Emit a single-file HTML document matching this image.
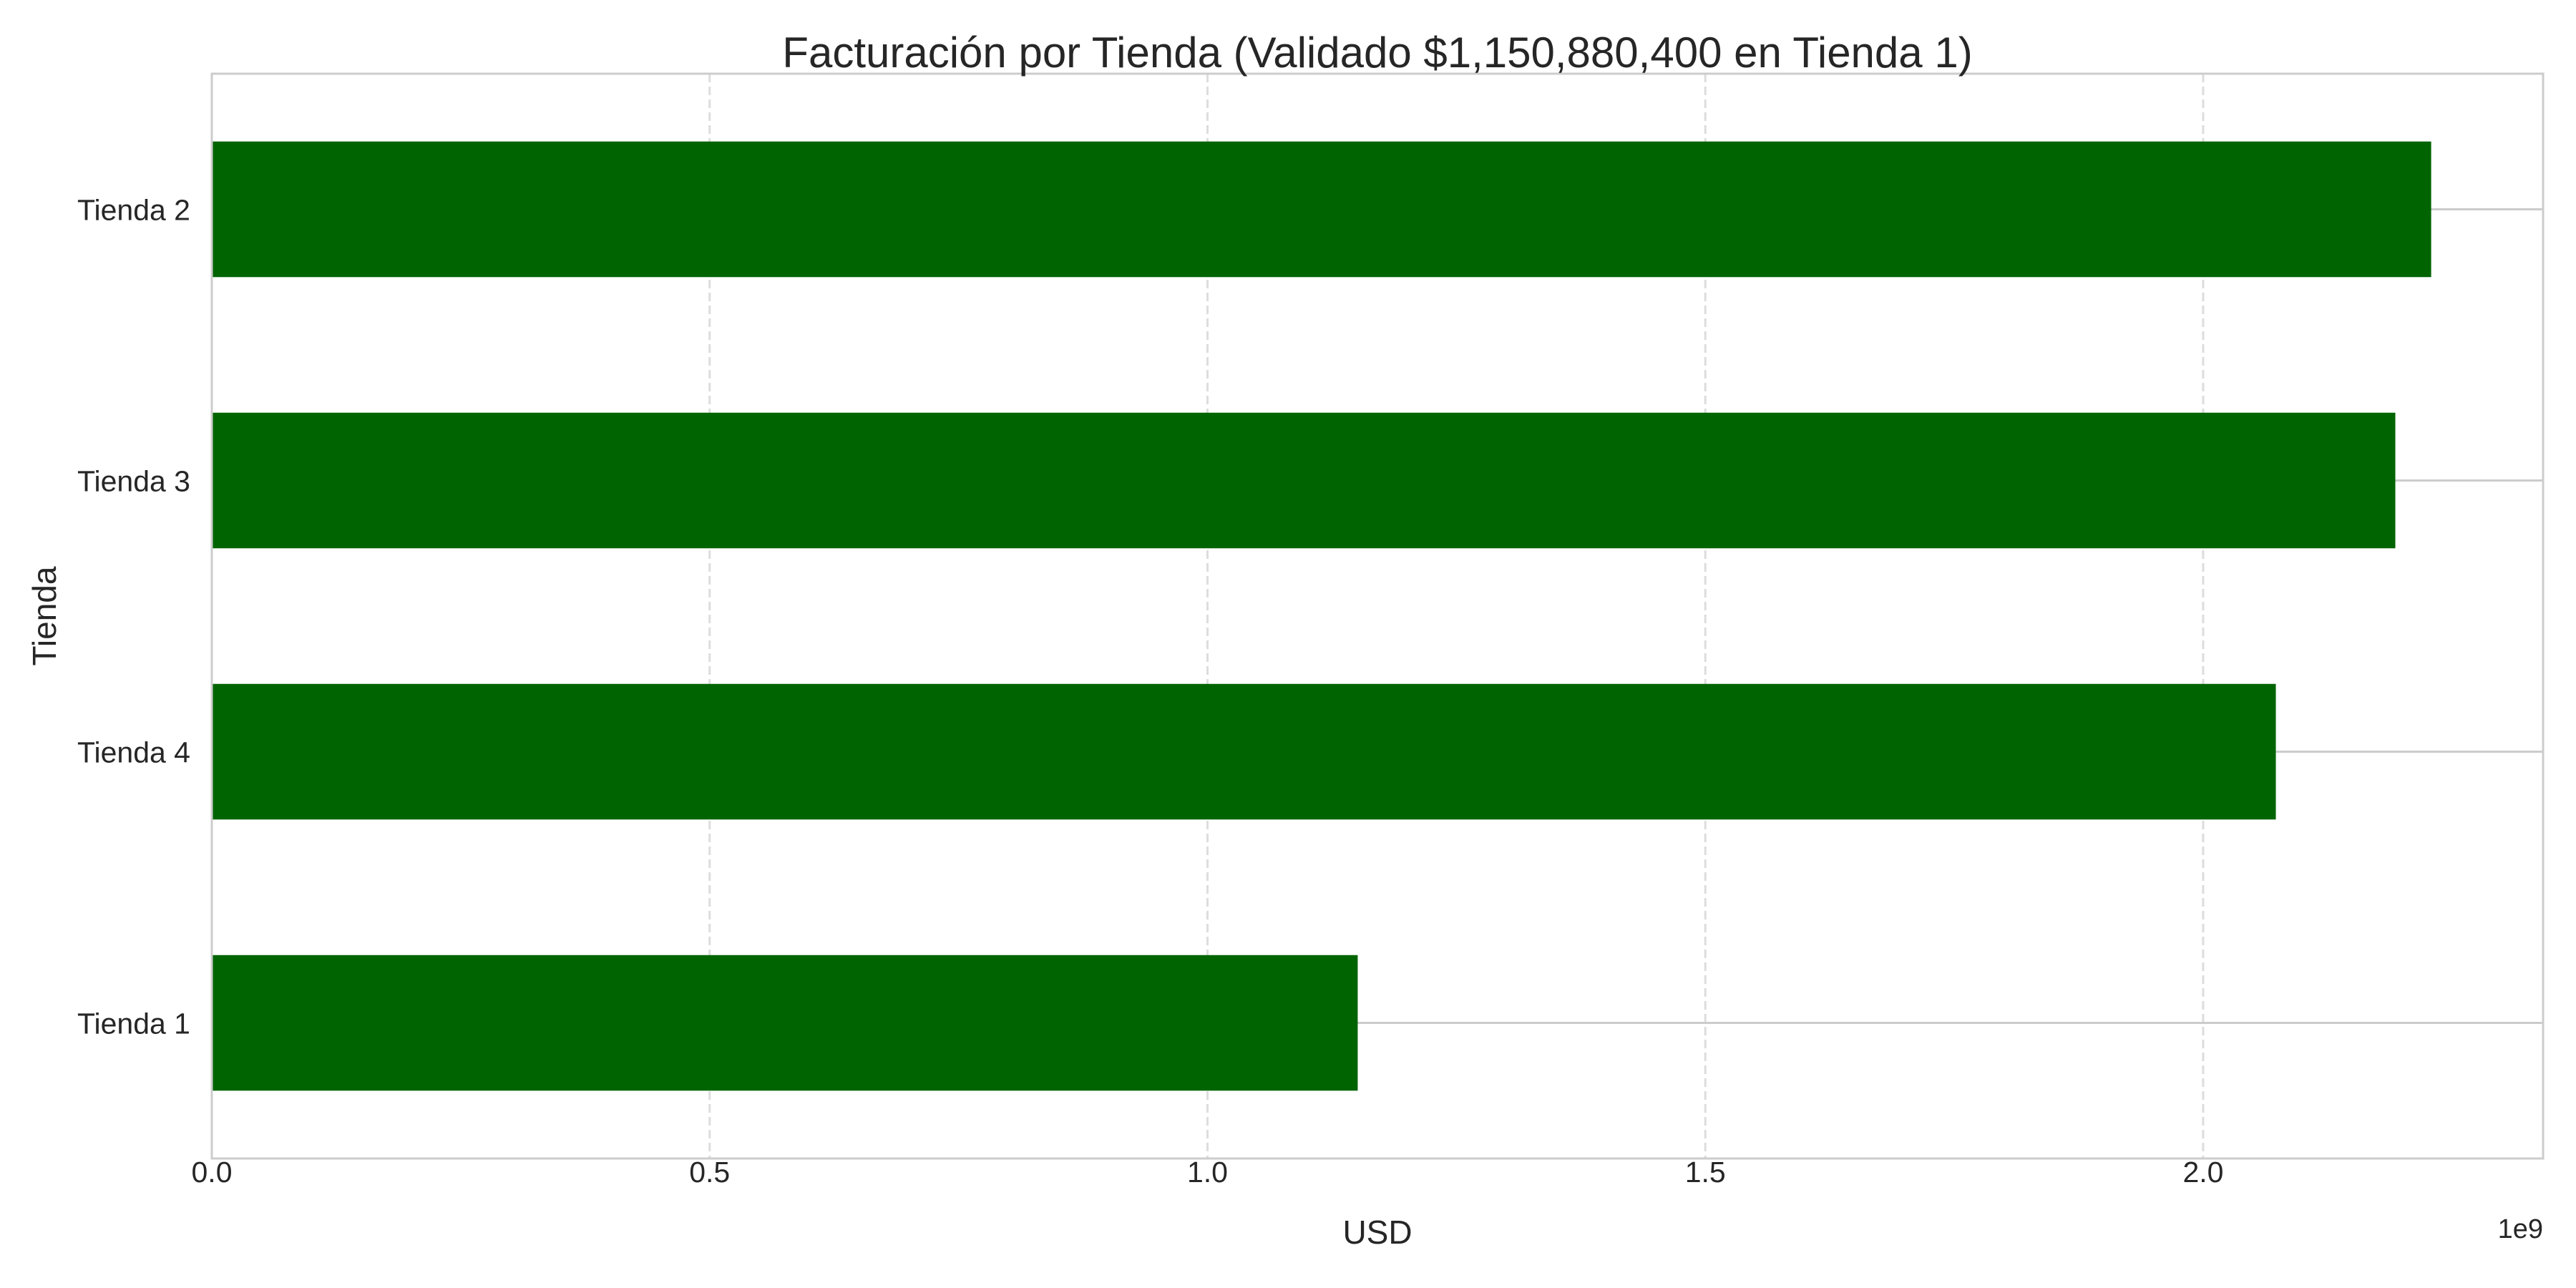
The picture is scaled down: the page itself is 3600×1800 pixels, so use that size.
<!DOCTYPE html>
<html><head><meta charset="utf-8"><style>
html,body{margin:0;padding:0;background:#fff;}
svg{display:block;font-family:"Liberation Sans",Arial,sans-serif;}
</style></head><body>
<svg id="chart" width="3600" height="1800" viewBox="0 0 3600 1800" xmlns="http://www.w3.org/2000/svg">
<rect width="3600" height="1800" fill="#fff"/>
<g id="grid"></g>
<g id="bars"></g>
<g id="ticks"></g>
<rect x="296" y="103" width="3258" height="1516" fill="none" stroke="#cccccc" stroke-width="3"/>
<text x="1925" y="94" font-size="60" text-anchor="middle" fill="#262626">Facturación por Tienda (Validado $1,150,880,400 en Tienda 1)</text>
<text x="1925" y="1738" font-size="46" text-anchor="middle" fill="#262626">USD</text>
<text transform="translate(78,861) rotate(-90)" font-size="46" text-anchor="middle" fill="#262626">Tienda</text>
<text x="3554" y="1730" font-size="38" text-anchor="end" fill="#262626">1e9</text>
</svg>
<script>
const categories = ["Tienda 1","Tienda 4","Tienda 3","Tienda 2"];
const revenue = [1.1508804, 2.073, 2.193, 2.229];
const xTicks = [0, 0.5, 1.0, 1.5, 2.0];
const xTickLabels = ["0.0","0.5","1.0","1.5","2.0"];

const NS = "http://www.w3.org/2000/svg";
const L = 296, R = 3554, T = 103, B = 1619, XMAX = 2.3414;
const xs = v => L + v / XMAX * (R - L);
const ys = i => B - (i + 0.5) / categories.length * (B - T);
const step = (B - T) / categories.length;
function mk(tag, attrs, parent) {
  const e = document.createElementNS(NS, tag);
  for (const k in attrs) e.setAttribute(k, attrs[k]);
  parent.appendChild(e);
  return e;
}
const grid = document.getElementById('grid');
const bars = document.getElementById('bars');
const ticks = document.getElementById('ticks');
xTicks.forEach((t, i) => {
  const ln = mk('line', {x1: xs(t), x2: xs(t), y1: T, y2: B, stroke: '#dddddd', 'stroke-width': 3, 'stroke-dasharray': '12,6'}, grid);
  
  
  const tx = mk('text', {x: xs(t), y: 1652, 'font-size': 41, 'text-anchor': 'middle', fill: '#262626'}, ticks);
  tx.textContent = xTickLabels[i];
  
  
});
categories.forEach((c, i) => {
  const ln = mk('line', {x1: L, x2: R, y1: ys(i), y2: ys(i), stroke: '#cccccc', 'stroke-width': 3}, grid);
  
  
  const r = mk('rect', {x: L, y: ys(i) - step * 0.25, width: xs(revenue[i]) - L, height: step * 0.5, fill: '#006400'}, bars);
  
  
  const tx = mk('text', {x: 266, y: ys(i) + 15, 'font-size': 41, 'text-anchor': 'end', fill: '#262626'}, ticks);
  tx.textContent = c;
  
  
});
</script>
</body></html>
